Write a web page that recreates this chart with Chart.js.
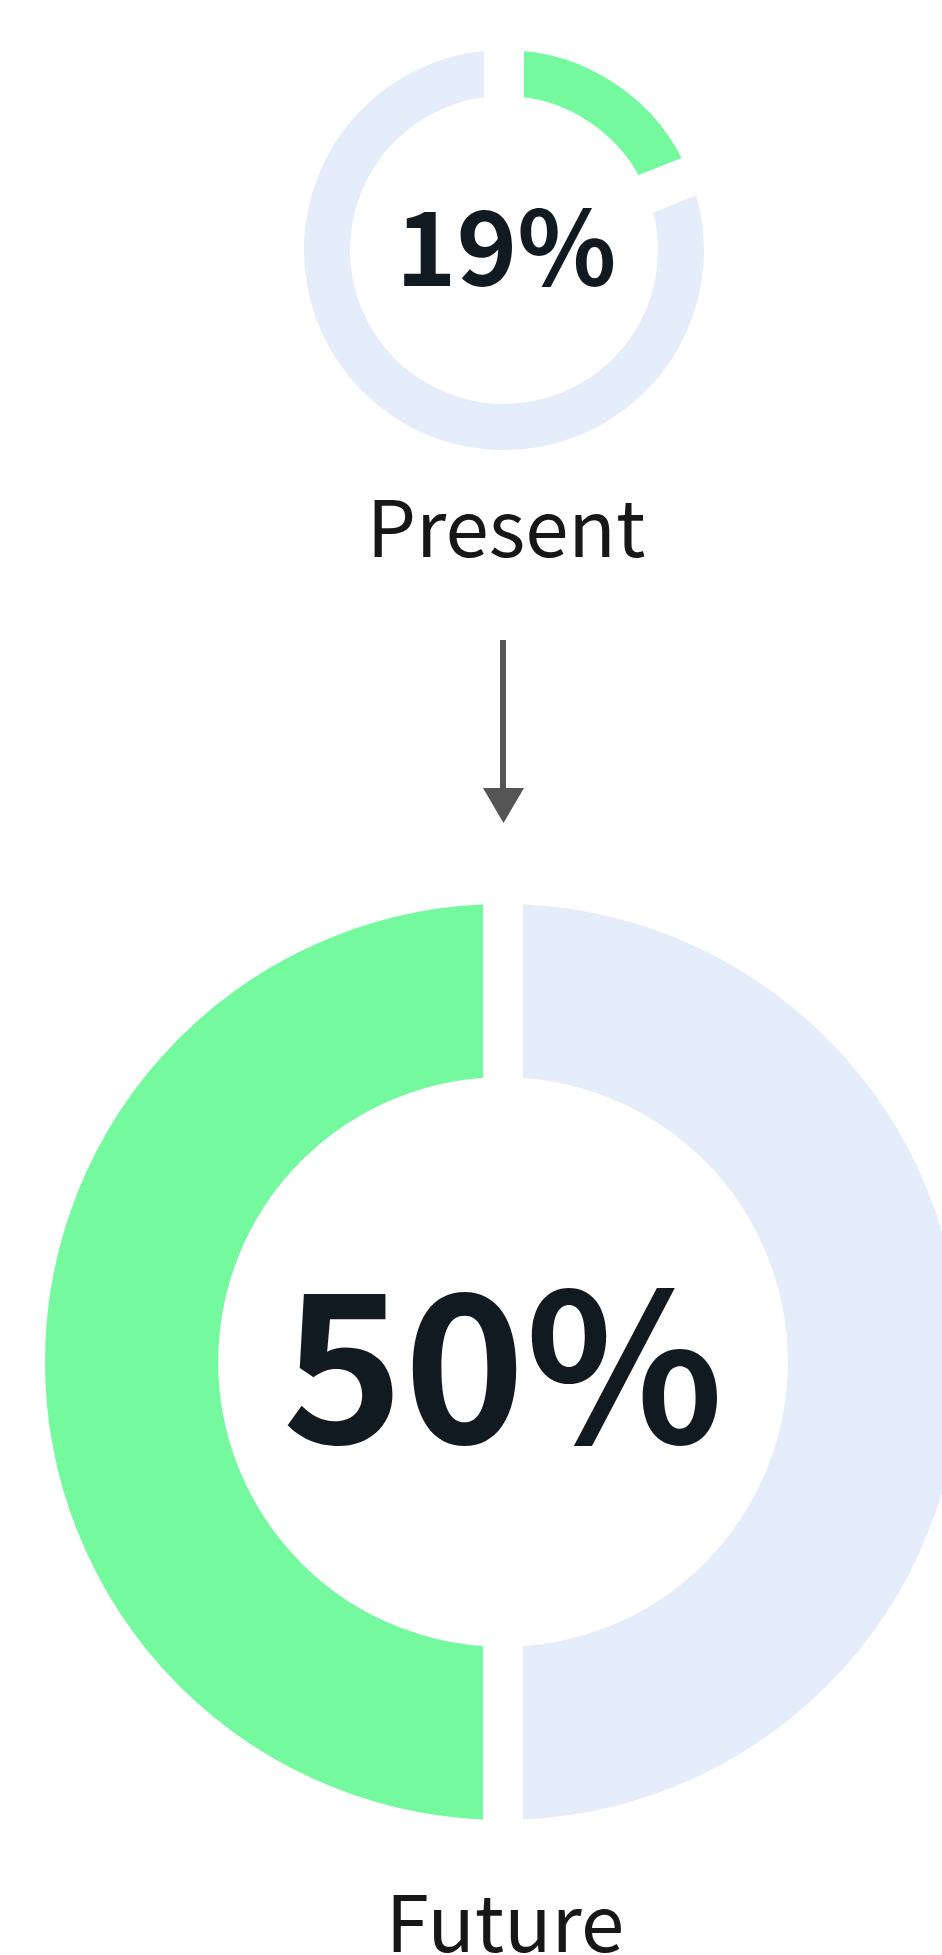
<!DOCTYPE html>
<html>
<head>
<meta charset="utf-8">
<script src="https://cdn.jsdelivr.net/npm/chart.js@4"></script>
<style>
  html, body { margin: 0; padding: 0; background: #fff; overflow: hidden; }
  .page { position: relative; width: 1006px; height: 1955px; }
  .chart { position: absolute; }
  .pct {
    position: absolute; transform: translateX(-50%); white-space: nowrap;
    font-family: "Noto Sans CJK SC", sans-serif; font-weight: 700; line-height: 1; color: #121a21;
  }
  .label {
    position: absolute; transform: translateX(-50%); white-space: nowrap;
    font-family: "Noto Sans CJK SC", sans-serif; font-weight: 400; font-size: 78px;
    line-height: 1; color: #171717;
  }
  .arrow { position: absolute; left: 473px; top: 636px; }
</style>
</head>
<body>
<div class="page">
  <div class="chart" style="left:264px;top:10px;width:480px;height:480px;"><canvas id="chartPresent"></canvas></div>
  <div class="pct" id="pctPresent" style="left:506px;top:190px;font-size:103px;"></div>
  <div class="label" id="lblPresent" style="left:506px;top:484px;"></div>

  <svg class="arrow" width="60" height="192" viewBox="0 0 60 192">
    <rect x="27" y="4" width="6" height="150" fill="#555555"></rect>
    <polygon points="10,152 51,152 30.5,187" fill="#555555"></polygon>
  </svg>

  <div class="chart" style="left:5px;top:864px;width:996px;height:996px;"><canvas id="chartFuture"></canvas></div>
  <div class="pct" id="pctFuture" style="left:503px;top:1250px;font-size:206px;"></div>
  <div class="label" id="lblFuture" style="left:505px;top:1879px;"></div>
</div>

<script>
const stages = ['Present', 'Future'];
const shares = [19, 50];
const remainders = [81, 50];
const segmentLabels = ['Share', 'Remaining'];
const shareColor = '#74f99e';
const restColor = '#e5edfa';

function makeDonut(canvasId, idx, rotation, cutout) {
  new Chart(document.getElementById(canvasId), {
    type: 'doughnut',
    data: {
      labels: segmentLabels,
      datasets: [
        {
          data: [shares[idx], remainders[idx]],
          backgroundColor: [shareColor, restColor],
          borderColor: '#ffffff',
          borderWidth: 40, // white stroke makes the straight gaps
          borderJoinStyle: 'miter',
          hoverOffset: 0,
        },
      ],
    },
    options: {
      responsive: true,
      maintainAspectRatio: false,
      animation: false,
      rotation: rotation,
      cutout: cutout,
      layout: { padding: 0 },
      events: [],
      plugins: {
        legend: { display: false },
        tooltip: { enabled: false },
      },
    },
  });
  document.getElementById('pct' + stages[idx]).textContent = shares[idx] + '%';
  document.getElementById('lbl' + stages[idx]).textContent = stages[idx];
}

makeDonut('chartPresent', 0, 0, '60.9%');
makeDonut('chartFuture', 1, 180, '55.4%');
</script>
</body>
</html>
